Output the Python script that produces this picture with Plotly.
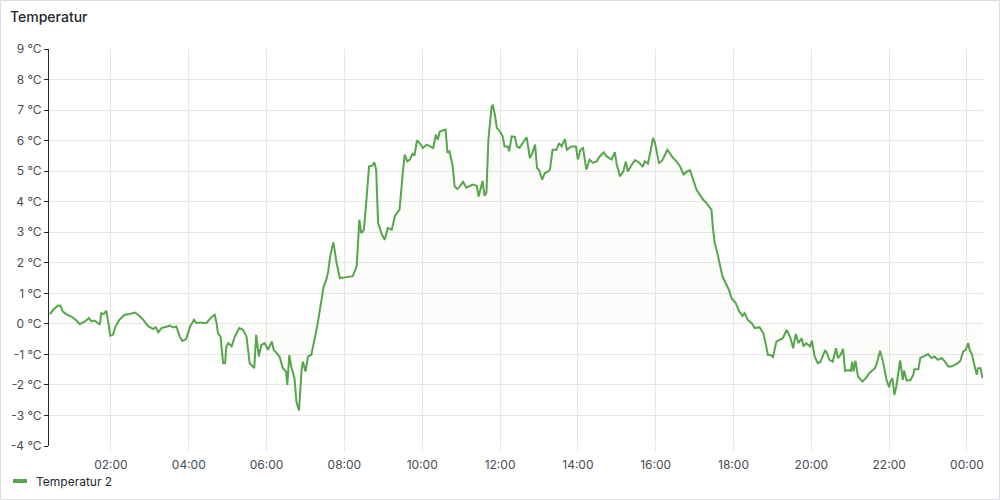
import plotly.graph_objects as go
import pandas as pd

# minutes after midnight of day 1 (values > 1440 belong to the next day)
minutes = [
    26, 31, 38, 42, 46, 51, 59, 67, 72, 80, 86, 90, 95, 103, 105, 109, 113, 116, 119, 123,
    127, 133, 141, 149, 157, 162, 170, 177, 185, 189, 193, 198, 206, 211, 216, 221, 226, 230, 236, 242,
    248, 252, 257, 267, 275, 280, 283, 285, 289, 293, 296, 298, 301, 306, 311, 318, 324, 329, 334, 338,
    341, 344, 348, 352, 357, 362, 368, 371, 375, 380, 385, 390, 392, 395, 398, 403, 406, 410, 414, 416,
    420, 424, 429, 434, 438, 441, 445, 448, 452, 455, 458, 463, 468, 473, 483, 493, 499, 503, 506, 510,
    514, 518, 523, 526, 529, 532, 537, 542, 547, 553, 558, 565, 570, 573, 577, 581, 585, 588, 592, 596,
    601, 607, 617, 621, 624, 627, 632, 636, 639, 642, 647, 650, 654, 658, 663, 668, 678, 684, 687, 693,
    696, 699, 702, 707, 709, 712, 715, 720, 724, 727, 732, 734, 738, 743, 746, 750, 755, 761, 766, 770,
    774, 777, 780, 785, 789, 794, 797, 801, 807, 811, 815, 820, 823, 830, 837, 840, 844, 848, 853, 858,
    863, 869, 874, 880, 884, 892, 897, 900, 905, 910, 914, 917, 923, 928, 935, 940, 943, 948, 952, 956,
    959, 961, 965, 969, 972, 978, 983, 987, 992, 997, 1003, 1008, 1013, 1018, 1023, 1028, 1033, 1038, 1043, 1046,
    1048, 1051, 1055, 1059, 1063, 1068, 1073, 1077, 1083, 1089, 1094, 1097, 1102, 1108, 1113, 1120, 1126, 1130, 1133, 1137,
    1141, 1146, 1151, 1156, 1162, 1167, 1172, 1176, 1180, 1185, 1188, 1192, 1198, 1201, 1205, 1210, 1214, 1221, 1223, 1228,
    1233, 1238, 1241, 1245, 1249, 1252, 1257, 1261, 1263, 1265, 1268, 1272, 1279, 1284, 1290, 1298, 1301, 1306, 1311, 1316,
    1320, 1322, 1325, 1328, 1331, 1334, 1337, 1341, 1343, 1347, 1353, 1357, 1359, 1365, 1368, 1375, 1380, 1385, 1390, 1395,
    1401, 1406, 1411, 1416, 1421, 1426, 1430, 1434, 1438, 1442, 1444, 1448, 1452, 1455, 1457, 1461, 1464,
]

temperature = [
    0.32, 0.46, 0.59, 0.60, 0.40, 0.32, 0.24, 0.11, -0.01, 0.08, 0.19, 0.08, 0.11, -0.03, 0.35, 0.32, 0.43, 0.02, -0.39, -0.36,
    -0.09, 0.13, 0.30, 0.32, 0.37, 0.30, 0.13, -0.07, -0.17, -0.11, -0.28, -0.14, -0.09, -0.06, -0.12, -0.09, -0.41, -0.56, -0.50, -0.09,
    0.13, 0.02, 0.04, 0.02, 0.22, 0.30, 0.02, -0.31, -0.42, -1.29, -1.29, -0.74, -0.63, -0.74, -0.42, -0.14, -0.20, -0.42, -1.29, -1.40,
    -1.45, -0.36, -1.07, -0.69, -0.63, -0.85, -0.58, -0.85, -0.96, -1.07, -1.45, -1.56, -2.00, -1.02, -1.40, -1.78, -2.55, -2.84, -1.51, -1.24,
    -1.56, -1.07, -1.02, -0.52, -0.09, 0.30, 0.79, 1.22, 1.44, 1.71, 2.21, 2.67, 1.99, 1.50, 1.53, 1.56, 1.90, 3.41, 2.97, 3.08,
    4.07, 5.16, 5.18, 5.29, 5.05, 3.30, 2.97, 2.75, 3.14, 3.08, 3.54, 3.74, 4.94, 5.54, 5.32, 5.38, 5.57, 5.51, 6.01, 5.92,
    5.76, 5.87, 5.76, 6.20, 6.03, 6.30, 6.33, 6.36, 5.60, 5.65, 5.16, 4.50, 4.42, 4.50, 4.65, 4.46, 4.56, 4.52, 4.17, 4.68,
    4.20, 4.29, 6.03, 7.12, 7.15, 6.85, 6.42, 6.30, 6.14, 5.81, 5.81, 5.65, 6.14, 6.12, 5.81, 5.76, 5.92, 6.11, 5.43, 5.60,
    5.87, 5.10, 5.05, 4.72, 4.94, 4.99, 5.05, 5.70, 5.70, 5.92, 5.81, 6.05, 5.70, 5.81, 5.81, 5.38, 5.70, 5.76, 5.05, 5.38,
    5.27, 5.32, 5.49, 5.62, 5.49, 5.38, 5.62, 5.21, 4.83, 4.99, 5.32, 4.99, 5.21, 5.36, 5.27, 5.14, 5.32, 5.25, 5.65, 6.09,
    5.92, 5.70, 5.27, 5.32, 5.43, 5.70, 5.54, 5.43, 5.32, 5.18, 4.89, 4.99, 5.03, 4.67, 4.39, 4.23, 4.07, 3.96, 3.83, 3.74,
    3.19, 2.65, 2.32, 1.88, 1.55, 1.33, 1.11, 0.84, 0.70, 0.40, 0.26, 0.35, 0.13, 0.02, -0.14, -0.11, -0.31, -0.69, -1.02, -1.02,
    -1.09, -0.58, -0.52, -0.47, -0.20, -0.42, -0.80, -0.33, -0.63, -0.47, -0.74, -0.63, -0.74, -0.55, -1.07, -1.29, -1.24, -0.88, -0.91, -1.18,
    -1.24, -0.80, -1.12, -1.02, -0.82, -1.54, -1.51, -1.54, -1.24, -1.56, -1.21, -1.73, -1.89, -1.78, -1.60, -1.45, -1.29, -0.88, -1.29, -1.84,
    -2.08, -1.89, -1.78, -2.33, -2.05, -1.56, -1.20, -1.84, -1.53, -1.86, -1.84, -1.67, -1.49, -1.49, -1.12, -1.05, -0.99, -1.12, -1.07, -1.18,
    -1.12, -1.24, -1.40, -1.40, -1.34, -1.29, -1.20, -0.91, -0.85, -0.63, -0.85, -1.02, -1.40, -1.67, -1.45, -1.45, -1.78,
]

y_tick_values = list(range(-4, 10))
y_tick_labels = [f"{v} °C" for v in y_tick_values]
x_tick_hours = [2, 4, 6, 8, 10, 12, 14, 16, 18, 20, 22, 24]
x_tick_labels = ["02:00", "04:00", "06:00", "08:00", "10:00", "12:00",
                 "14:00", "16:00", "18:00", "20:00", "22:00", "00:00"]

series_name = "Temperatur 2"
title_text = "Temperatur"

day0 = pd.Timestamp("2024-01-01")
times = day0 + pd.to_timedelta(minutes, unit="min")
x_tick_vals = [day0 + pd.Timedelta(hours=h) for h in x_tick_hours]
x_range = [day0 + pd.Timedelta(minutes=24.5), day0 + pd.Timedelta(minutes=1464.7)]

LINE = "#56a64b"
GRID = "#e6e6e6"
FONT = "Inter, 'Noto Sans', sans-serif"

fig = go.Figure()
fig.add_trace(go.Scatter(
    x=times, y=temperature, mode="lines", name=series_name,
    line=dict(color=LINE, width=2),
    fill="tozeroy", fillcolor="rgba(110,110,60,0.025)",
    showlegend=False,
))

L, R, T, B = 49, 17, 49, 54
W, H = 1000, 500
pw, ph = W - L - R, H - T - B


def px_x(p):
    return (p - L) / pw


def px_y(p):
    return (H - B - p) / ph


fig.update_layout(
    width=W, height=H,
    margin=dict(l=L, r=R, t=T, b=B),
    paper_bgcolor="white", plot_bgcolor="white",
    font=dict(family=FONT, size=12, color="#464c54"),
    title=dict(text=title_text, x=0.01, xanchor="left", xref="container",
               y=1 - 17 / H, yanchor="middle", yref="container",
               font=dict(family=FONT, size=14, color="#24292e", weight=500)),
    xaxis=dict(
        type="date", range=x_range, tickmode="array",
        tickvals=x_tick_vals, ticktext=x_tick_labels,
        showgrid=True, gridcolor=GRID, gridwidth=1,
        showline=False, zeroline=False,
        ticks="outside", ticklen=4, tickcolor=GRID, tickwidth=1,
        ticklabelstandoff=4,
        tickfont=dict(size=12, color="#464c54"),
    ),
    yaxis=dict(
        range=[-4, 9], tickmode="array", tickvals=y_tick_values, ticktext=y_tick_labels,
        showgrid=True, gridcolor=GRID, gridwidth=1,
        showline=True, linecolor="#24292e", linewidth=1,
        ticks="outside", ticklen=4, tickcolor="#24292e",
        zeroline=False, tickfont=dict(size=12, color="#464c54"),
    ),
    shapes=[
        dict(type="rect", xref="paper", yref="paper",
             x0=px_x(0.5), x1=px_x(999.5), y0=px_y(499.5), y1=px_y(0.5),
             line=dict(color="#dcdde0", width=1), fillcolor="rgba(0,0,0,0)", layer="below"),
        dict(type="line", xref="paper", yref="paper",
             x0=px_x(13), x1=px_x(27), y0=px_y(481), y1=px_y(481),
             line=dict(color=LINE, width=4)),
    ],
    annotations=[
        dict(text=series_name, xref="paper", yref="paper",
             x=px_x(34), y=px_y(481), xanchor="left", yanchor="middle",
             showarrow=False, font=dict(family=FONT, size=12, color="#24292e")),
    ],
)

fig.write_html("out.html", config={"displayModeBar": False},
               post_script="document.body.style.margin='0';")
